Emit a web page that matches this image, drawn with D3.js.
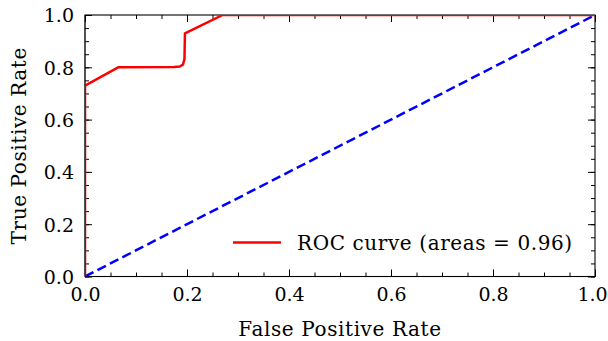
<!DOCTYPE html>
<html>
<head>
<meta charset="utf-8">
<script src="https://cdn.jsdelivr.net/npm/d3@7"></script>
<style>
  html, body { margin: 0; padding: 0; background: #fff; }
  svg { display: block; }
  text { font-family: "DejaVu Serif", "Liberation Serif", serif; fill: #000; }
</style>
</head>
<body>
<svg id="chart" width="608" height="341"></svg>
<script>
// ROC curve: false positive rate vs true positive rate
const fpr = [0, 0, 0.065, 0.175, 0.186, 0.192, 0.195, 0.196, 0.27, 1.0];
const tpr = [0, 0.73, 0.80, 0.801, 0.803, 0.81, 0.83, 0.93, 1.0, 1.0];
// chance diagonal
const chanceX = [0, 1];
const chanceY = [0, 1];
const majorTicks = [0, 0.2, 0.4, 0.6, 0.8, 1.0];
const minorTicks = d3.range(0, 1.0001, 0.05);
const legendLabel = "ROC curve (areas = 0.96)";
const xTitle = "False Positive Rate";
const yTitle = "True Positive Rate";

const svg = d3.select("#chart");
const plotLeft = 85, plotRight = 595, plotTop = 15, plotBottom = 276.5;

const x = d3.scaleLinear().domain([0, 1]).range([plotLeft, plotRight]);
const y = d3.scaleLinear().domain([0, 1]).range([plotBottom, plotTop]);

const fmt = d3.format(".1f");
const fontSize = 20, spacing = "0.6px";
const tickFontSize = 19;

// clip for data lines
svg.append("clipPath").attr("id", "plotClip")
  .append("rect").attr("x", plotLeft).attr("y", plotTop)
  .attr("width", plotRight - plotLeft).attr("height", plotBottom - plotTop);

// axes with inward ticks on all four sides
function addAxis(axisFn, scale, transform, ticks, size, showLabels) {
  const g = svg.append("g").attr("transform", transform)
    .call(axisFn(scale).tickValues(ticks).tickSizeInner(-size).tickSizeOuter(0)
      .tickPadding(showLabels ? 9 + size : 0)
      .tickFormat(showLabels ? fmt : ""));
  g.select(".domain").remove();
  g.selectAll(".tick line").attr("stroke", "#000").attr("stroke-width", 1);
  g.selectAll(".tick text").attr("font-size", tickFontSize);
  return g;
}

// minor ticks
addAxis(d3.axisBottom, x, `translate(0,${plotBottom})`, minorTicks, 4, false);
addAxis(d3.axisTop, x, `translate(0,${plotTop})`, minorTicks, 4, false);
addAxis(d3.axisLeft, y, `translate(${plotLeft},0)`, minorTicks, 4, false);
addAxis(d3.axisRight, y, `translate(${plotRight},0)`, minorTicks, 4, false);
// major ticks
const xb = addAxis(d3.axisBottom, x, `translate(0,${plotBottom})`, majorTicks, 7, true);
xb.selectAll(".tick text").attr("dy", "0.71em").attr("y", 11)
  // keep the last label inside the canvas edge
  .attr("x", d => d === 1 ? -3 : 0);
addAxis(d3.axisTop, x, `translate(0,${plotTop})`, majorTicks, 7, false);
const yl = addAxis(d3.axisLeft, y, `translate(${plotLeft},0)`, majorTicks, 7, true);
yl.selectAll(".tick text").attr("x", -11).attr("dy", "0.36em");
addAxis(d3.axisRight, y, `translate(${plotRight},0)`, majorTicks, 7, false);

// frame
svg.append("rect")
  .attr("x", plotLeft).attr("y", plotTop)
  .attr("width", plotRight - plotLeft).attr("height", plotBottom - plotTop)
  .attr("fill", "none").attr("stroke", "#000").attr("stroke-width", 1.1);

const line = d3.line().x(d => x(d[0])).y(d => y(d[1]));

// chance line
svg.append("path")
  .datum(chanceX.map((v, i) => [v, chanceY[i]]))
  .attr("d", line)
  .attr("fill", "none").attr("stroke", "#0000ff")
  .attr("stroke-width", 2.5).attr("stroke-dasharray", "9.5,4.5")
  .attr("clip-path", "url(#plotClip)");

// ROC curve
svg.append("path")
  .datum(fpr.map((v, i) => [v, tpr[i]]))
  .attr("d", line)
  .attr("fill", "none").attr("stroke", "#ff0000")
  .attr("stroke-width", 2.5).attr("stroke-linejoin", "round")
  .attr("clip-path", "url(#plotClip)");

// left spine drawn over the curve segment at fpr = 0
svg.append("line")
  .attr("x1", plotLeft).attr("x2", plotLeft).attr("y1", plotTop).attr("y2", plotBottom)
  .attr("stroke", "#000").attr("stroke-opacity", 0.55).attr("stroke-width", 1);

// legend
const lg = svg.append("g");
lg.append("line")
  .attr("x1", 233).attr("x2", 281).attr("y1", 242.5).attr("y2", 242.5)
  .attr("stroke", "#ff0000").attr("stroke-width", 2.5);
lg.append("text")
  .attr("x", 297).attr("y", 250)
  .attr("font-size", fontSize).attr("letter-spacing", spacing)
  .text(legendLabel);

// axis titles
svg.append("text")
  .attr("x", (plotLeft + plotRight) / 2).attr("y", 335.5)
  .attr("text-anchor", "middle")
  .attr("font-size", fontSize).attr("letter-spacing", spacing)
  .text(xTitle);

svg.append("text")
  .attr("transform", `translate(26,${(plotTop + plotBottom) / 2}) rotate(-90)`)
  .attr("text-anchor", "middle")
  .attr("font-size", fontSize).attr("letter-spacing", spacing)
  .text(yTitle);
</script>
</body>
</html>
